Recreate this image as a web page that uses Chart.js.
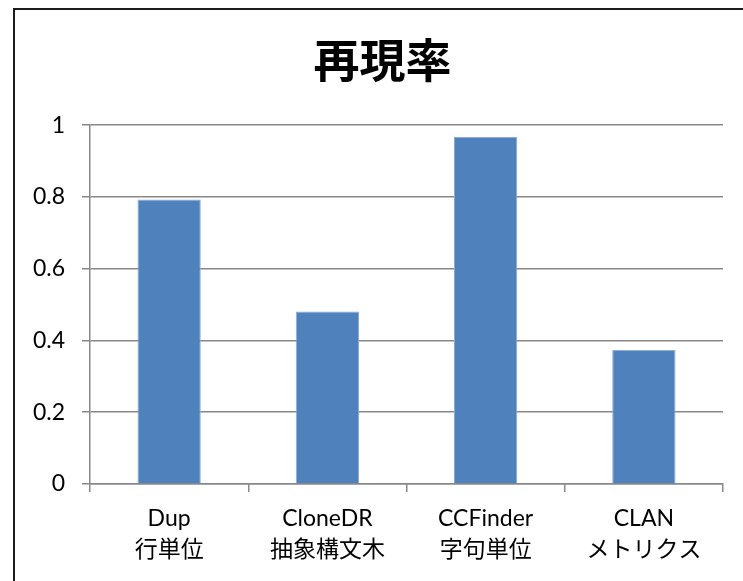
<!DOCTYPE html>
<html>
<head>
<meta charset="utf-8">
<script src="https://cdn.jsdelivr.net/npm/chart.js@4"></script>
<style>
    html, body { margin: 0; padding: 0; background: #fff; overflow: hidden; width: 743px; height: 581px; }
    #frame { position: absolute; left: 13px; top: 8px; width: 800px; height: 650px; border: 2px solid #1c1c1c; }
    #recall-chart { position: absolute; left: 0; top: 0; }
</style>
</head>
<body>
<div id="frame"></div>
<canvas id="recall-chart" width="765" height="581"></canvas>
<script>
const tools = ['Dup', 'CloneDR', 'CCFinder', 'CLAN'];
const methods = ['行単位', '抽象構文木', '字句単位', 'メトリクス'];
const recall = [0.793, 0.481, 0.967, 0.374];
const yTickLabels = ['0', '0.2', '0.4', '0.6', '0.8', '1'];

const gridColor = '#888888';
const tickFont = { family: "Lato, 'Noto Sans CJK JP', sans-serif", size: 23 };

const labels = tools.map((t, i) => [t, methods[i]]);

// the title is centred on the whole frame, not on the plot
const widenTitle = {
    id: 'widenTitle',
    afterLayout(chart) {
        const tb = chart.titleBlock;
        if (tb) {
            tb.right = chart.width;
            tb.width = tb.right - tb.left;
        }
    }
};

const ctx = document.getElementById('recall-chart').getContext('2d');

new Chart(ctx, {
    type: 'bar',
    data: {
        labels: labels,
        datasets: [{
            label: '再現率',
            data: recall,
            backgroundColor: '#4F81BD',
            borderColor: '#8DAAD6',
            borderWidth: 1,
            barPercentage: 0.4,
            categoryPercentage: 1.0
        }]
    },
    options: {
        responsive: false,
        animation: false,
        layout: {
            padding: { left: 0, right: 42, top: 0, bottom: 5 }
        },
        plugins: {
            legend: { display: false },
            tooltip: { enabled: false },
            title: {
                display: true,
                text: '再現率',
                color: '#000',
                font: { family: "'Noto Sans CJK JP', sans-serif", size: 46, weight: 'bold', lineHeight: 1.2 },
                padding: { top: 32, bottom: 38 }
            }
        },
        scales: {
            x: {
                grid: {
                    offset: true,
                    drawOnChartArea: false,
                    drawTicks: true,
                    tickLength: 8,
                    color: gridColor,
                    lineWidth: 1.5
                },
                border: { color: gridColor, width: 1.5 },
                ticks: {
                    color: '#000',
                    font: { ...tickFont, lineHeight: '31px' },
                    padding: 11,
                    maxRotation: 0,
                    autoSkip: false
                }
            },
            y: {
                min: 0,
                max: 1,
                afterFit: function (scale) {
                    scale.width = 90;
                },
                grid: {
                    color: gridColor,
                    lineWidth: 1.5,
                    drawTicks: true,
                    tickLength: 8
                },
                border: { color: gridColor, width: 1.5 },
                ticks: {
                    stepSize: 0.2,
                    color: '#000',
                    font: tickFont,
                    padding: 17,
                    callback: function (value, index) {
                        return yTickLabels[index];
                    }
                }
            }
        }
    },
    plugins: [widenTitle]
});
</script>
</body>
</html>
